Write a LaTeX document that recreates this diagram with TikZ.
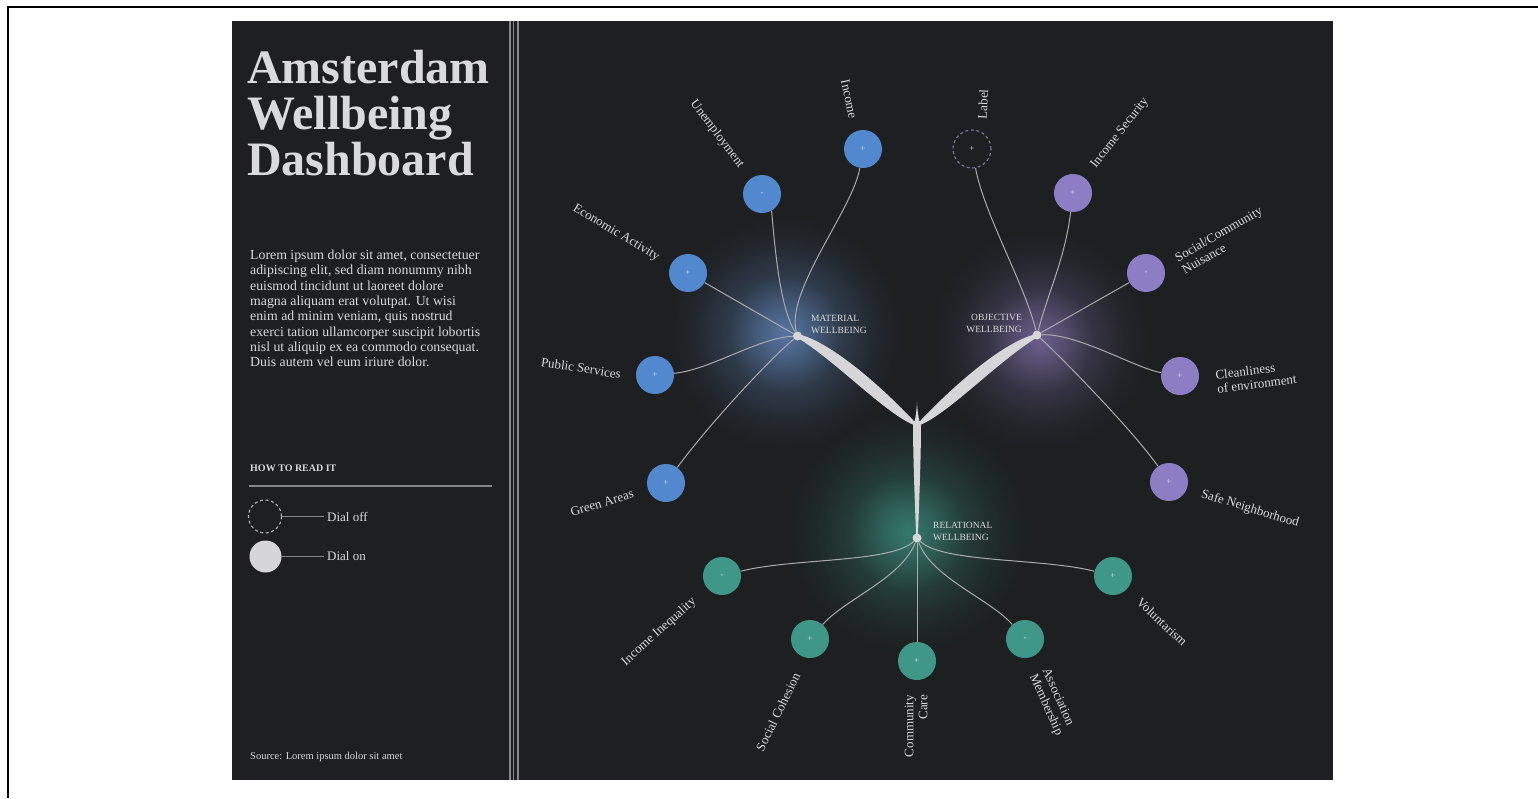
\documentclass[tikz,border=0pt]{standalone}
\usepackage{fontspec}
\setmainfont{Liberation Serif}
\usetikzlibrary{positioning,calc}

\definecolor{panel}{RGB}{29,31,33}
\definecolor{txt}{RGB}{218,218,220}
\definecolor{matblue}{RGB}{82,136,206}
\definecolor{objpurple}{RGB}{141,125,196}
\definecolor{relteal}{RGB}{63,151,136}
\definecolor{offpurple}{RGB}{128,120,170}
\definecolor{linkgray}{RGB}{170,170,172}
\definecolor{stemgray}{RGB}{214,214,216}
\definecolor{rulegray}{RGB}{135,135,138}
\definecolor{mglow}{RGB}{86,118,162}
\definecolor{oglow}{RGB}{106,95,140}
\definecolor{rglow}{RGB}{52,122,108}

\pgfdeclareradialshading{glowmat}{\pgfpoint{0bp}{0bp}}{color(0bp)=(mglow); color(5bp)=(mglow!75!panel); color(12bp)=(mglow!32!panel); color(19bp)=(mglow!10!panel); color(25bp)=(panel); color(50bp)=(panel)}
\pgfdeclareradialshading{glowobj}{\pgfpoint{0bp}{0bp}}{color(0bp)=(oglow); color(5bp)=(oglow!75!panel); color(12bp)=(oglow!32!panel); color(19bp)=(oglow!10!panel); color(25bp)=(panel); color(50bp)=(panel)}
\pgfdeclareradialshading{glowrel}{\pgfpoint{0bp}{0bp}}{color(0bp)=(rglow); color(5bp)=(rglow!75!panel); color(12bp)=(rglow!32!panel); color(19bp)=(rglow!10!panel); color(25bp)=(panel); color(50bp)=(panel)}

\tikzset{
  dial/.style={circle, minimum size=38pt, inner sep=0pt, text=white!88!black, font=\fontsize{9}{9}\selectfont},
  mat/.style={dial, fill=matblue},
  obj/.style={dial, fill=objpurple},
  rel/.style={dial, fill=relteal},
  dialoff/.style={dial, draw=offpurple, line width=1.1pt, dash pattern=on 3pt off 2.6pt},
  hub/.style={circle, fill=stemgray, minimum size=9pt, inner sep=0pt},
  leaf/.style={text=txt, inner sep=0pt, font=\fontsize{13}{14}\selectfont},
  hublbl/.style={text=txt, inner sep=0pt, font=\fontsize{9.5}{12}\selectfont},
  link/.style={draw=linkgray, line width=1pt},
  legline/.style={draw=rulegray, line width=1.3pt},
  legtxt/.style={text=txt, inner xsep=3pt, inner ysep=0pt, font=\fontsize{13}{14}\selectfont},
}

\begin{document}
\begin{tikzpicture}[x=1pt, y=-1pt]
\useasboundingbox (0,0) rectangle (1538,798);
\fill[white] (0,0) rectangle (1538,798);
\draw[line width=2.6pt] (8,798) -- (8,7) -- (1538,7);

% panel and column rules
\fill[panel] (232,21) rectangle (1333,780);
\foreach \x in {510,513.5,518}
  \draw[rulegray, line width=1.4pt] (\x,21) -- (\x,780);

% left column
\node[text=txt, inner sep=0pt, align=left, anchor=base west, font=\fontsize{48}{46}\selectfont\bfseries] (title) at (247,175) {Amsterdam\\Wellbeing\\Dashboard};
\node[text=txt, inner sep=0pt, align=left, anchor=base west, font=\fontsize{13.8}{15.3}\selectfont] (intro) at (250,366.7) {Lorem ipsum dolor sit amet, consectetuer\\adipiscing elit, sed diam nonummy nibh\\euismod tincidunt ut laoreet dolore\\magna aliquam erat volutpat. Ut wisi\\enim ad minim veniam, quis nostrud\\exerci tation ullamcorper suscipit lobortis\\nisl ut aliquip ex ea commodo consequat.\\Duis autem vel eum iriure dolor.};
\node[text=txt, inner sep=0pt, anchor=base west, font=\fontsize{10}{12}\selectfont\bfseries] (howto) at (250,471) {HOW TO READ IT};
\draw[legline] (249,486) -- (492,486);

% legend
\node[circle, minimum size=33pt, inner sep=0pt, draw=txt!80!panel, line width=1.1pt, dash pattern=on 3pt off 2.6pt] (legoff) at (265,516.5) {};
\node[circle, minimum size=32pt, inner sep=0pt, fill=stemgray] (legon) at (265.5,556.5) {};
\node[legtxt, anchor=west] (legofftxt) at (324,516.5) {Dial off};
\node[legtxt, anchor=west] (legontxt) at (324,556.5) {Dial on};
\draw[legline] (legoff.east) -- (legofftxt.west);
\draw[legline] (legon.east) -- (legontxt.west);
\node[text=txt, inner sep=0pt, anchor=base west, font=\fontsize{10.5}{12}\selectfont] (src) at (250,759) {Source: Lorem ipsum dolor sit amet};

% glows
\shade[shading=glowrel] (908,532) circle (122);
\shade[shading=glowmat] (785,333) circle (118);
\shade[shading=glowobj] (1040,340) circle (110);

% stem
\begin{scope}[shift={(917,425)}, stemgray]
  \foreach \s in {1,-1}
    \fill[xscale=\s] (-119.5,-91) .. controls (-92,-85) and (-47,-50) .. (-4,-5) -- (0,1) .. controls (-27,-7) and (-79,-62) .. (-117.5,-86) -- cycle;
  \fill (-4,-4) .. controls (-4,40) and (-1.5,90) .. (-1,110) -- (1,110) .. controls (1.5,90) and (4,40) .. (4,-4) -- cycle;
  \fill (-2.5,-3) .. controls (-1,-10) and (-0.3,-16) .. (0,-23) .. controls (0.3,-16) and (1,-10) .. (2.5,-3) -- cycle;
\end{scope}

% hubs
\node[hub] (mhub) at (797.5,336) {};
\node[hub] (ohub) at (1037,335) {};
\node[hub] (rhub) at (917,538) {};
\node[hublbl, anchor=west, align=left] (mlbl) at (811,324) {MATERIAL\\WELLBEING};
\node[hublbl, anchor=east, align=right] (olbl) at (1022,323) {OBJECTIVE\\WELLBEING};
\node[hublbl, anchor=west, align=left] (rlbl) at (933,531) {RELATIONAL\\WELLBEING};

% material wellbeing
\node[mat] (inc) at (863,149) {+};
\node[mat] (unemp) at (762,194) {-};
\node[mat] (econ) at (688,273) {+};
\node[mat] (pub) at (655,375) {+};
\node[mat] (green) at (666,483) {+};
\node[leaf, rotate=-78] (inclbl) at (849,99) {Income};
\node[leaf, rotate=-53] (unemplbl) at (717,134) {Unemployment};
\node[leaf, rotate=-31] (econlbl) at (616,233) {Economic Activity};
\node[leaf, rotate=-9] (publbl) at (581,368) {Public Services};
\node[leaf, rotate=17] (greenlbl) at (602,503) {Green Areas};
\draw[link] (inc) .. controls +(-10,60) and +(-12,-45) .. (mhub);
\draw[link] (unemp.-60) .. controls +(5,60) and +(-15,-25) .. (mhub);
\draw[link] (econ) -- (mhub);
\draw[link] (pub) .. controls +(55,-5) and +(-40,2) .. (mhub);
\draw[link] (green) .. controls +(40,-55) and +(-30,25) .. (mhub);

% objective wellbeing
\node[dialoff] (lab) at (972,149) {+};
\node[obj] (isec) at (1073,193) {+};
\node[obj] (nuis) at (1146,273) {-};
\node[obj] (clean) at (1180,376) {+};
\node[obj] (safe) at (1169,482) {+};
\node[leaf, rotate=87] (lablbl) at (983,104) {Label};
\node[leaf, rotate=52] (iseclbl) at (1120,133) {Income Security};
\node[leaf, rotate=30, align=left] (nuislbl) at (1222,240) {Social/Community\\Nuisance};
\node[leaf, rotate=7, align=left] (cleanlbl) at (1256,377) {Cleanliness\\of environment};
\node[leaf, rotate=-17] (safelbl) at (1250,509) {Safe Neighborhood};
\draw[link] (lab) .. controls +(12,65) and +(-12,-50) .. (ohub);
\draw[link] (isec) .. controls +(-8,65) and +(12,-45) .. (ohub);
\draw[link] (nuis) -- (ohub);
\draw[link] (clean) .. controls +(-45,-8) and +(40,-2) .. (ohub);
\draw[link] (safe) .. controls +(-35,-50) and +(30,28) .. (ohub);

% relational wellbeing
\node[rel] (ineq) at (722,576) {-};
\node[rel] (coh) at (810,639) {+};
\node[rel] (care) at (917,661) {+};
\node[rel] (assoc) at (1025,639) {-};
\node[rel] (vol) at (1113,576) {+};
\node[leaf, rotate=42] (ineqlbl) at (659,632) {Income Inequality};
\node[leaf, rotate=64] (cohlbl) at (778,712) {Social Cohesion};
\node[leaf, rotate=90, align=right] (carelbl) at (916,726) {Community\\Care};
\node[leaf, rotate=-66, align=left] (assoclbl) at (1052,702) {Association\\Membership};
\node[leaf, rotate=-43] (vollbl) at (1162,622) {Voluntarism};
\draw[link] (ineq) .. controls +(70,-18) and +(-25,25) .. (rhub);
\draw[link] (coh) .. controls +(35,-40) and +(-15,40) .. (rhub);
\draw[link] (care) -- (rhub);
\draw[link] (assoc) .. controls +(-35,-40) and +(15,40) .. (rhub);
\draw[link] (vol) .. controls +(-70,-18) and +(25,25) .. (rhub);
\end{tikzpicture}
\end{document}
